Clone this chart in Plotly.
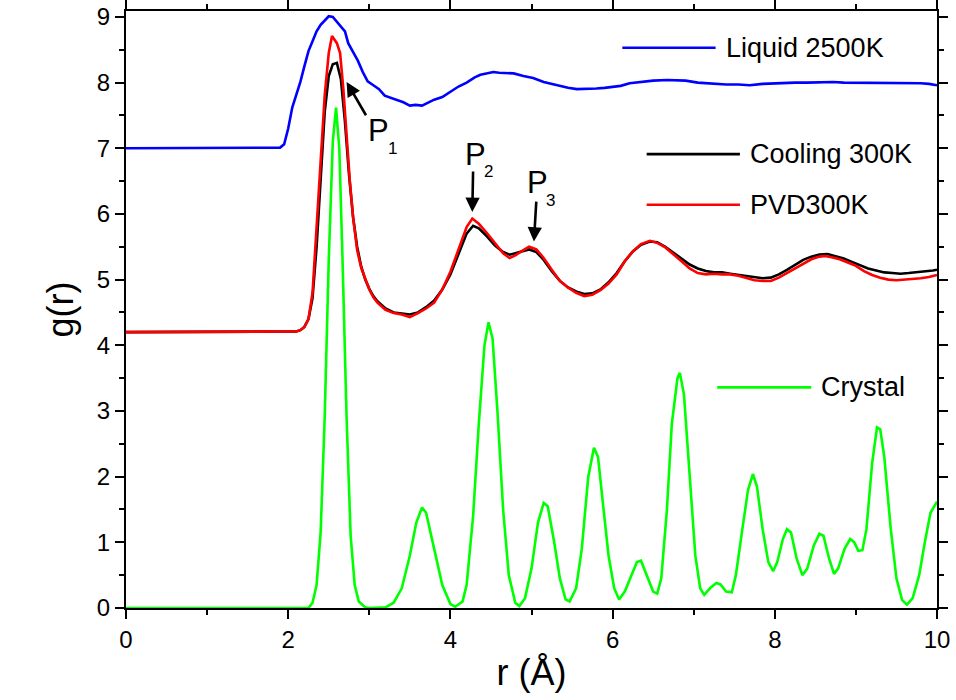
import plotly.graph_objects as go

# ---------------- data ----------------
liquid_r = [0, 1.85, 1.9, 1.95, 2.0, 2.05, 2.1, 2.15, 2.2, 2.25, 2.3, 2.35, 2.4, 2.45, 2.5, 2.55, 2.6, 2.65,
            2.7, 2.74, 2.8, 2.86, 2.92, 2.98, 3.05, 3.12, 3.19, 3.26, 3.34, 3.42, 3.5, 3.57, 3.65, 3.72,
            3.8, 3.9, 4.0, 4.1, 4.2, 4.3, 4.37, 4.45, 4.53, 4.6, 4.7, 4.78, 4.9, 5.02, 5.15, 5.31, 5.45,
            5.56, 5.7, 5.8, 5.9, 5.97, 6.1, 6.21, 6.35, 6.5, 6.67, 6.79, 6.9, 7.05, 7.24, 7.4, 7.55,
            7.69, 7.85, 8.0, 8.1, 8.25, 8.4, 8.55, 8.72, 8.85, 9.0, 9.15, 9.34, 9.5, 9.65, 9.8, 9.9, 10.0]
liquid_g = [7.0, 7.0, 7.01, 7.06, 7.3, 7.62, 7.82, 8.01, 8.25, 8.48, 8.63, 8.78, 8.88, 8.95, 9.01, 9.0, 8.93, 8.86,
            8.78, 8.6, 8.46, 8.33, 8.16, 8.02, 7.96, 7.9, 7.8, 7.77, 7.74, 7.7, 7.65, 7.66, 7.65, 7.69,
            7.74, 7.78, 7.86, 7.94, 8.0, 8.08, 8.12, 8.14, 8.16, 8.15, 8.15, 8.14, 8.1, 8.07, 8.01, 7.96, 7.92,
            7.9, 7.9, 7.91, 7.92, 7.93, 7.95, 7.99, 8.01, 8.03, 8.04, 8.04, 8.03, 8.0, 7.98, 7.97, 7.97,
            7.96, 7.98, 7.99, 7.99, 8.0, 8.0, 8.01, 8.01, 8.0, 8.0, 7.99, 7.99, 8.0, 7.99, 7.99, 7.98, 7.96]

cooling_r = [0, 2.0, 2.1, 2.15, 2.2, 2.25, 2.3, 2.35, 2.4, 2.45, 2.5, 2.55, 2.6, 2.65, 2.7, 2.75, 2.8, 2.85,
             2.9, 2.95, 3.0, 3.05, 3.1, 3.2, 3.3, 3.4, 3.5, 3.6, 3.7, 3.8, 3.9, 4.0, 4.1, 4.2, 4.28, 4.35,
             4.45, 4.55, 4.65, 4.73, 4.8, 4.9, 4.97, 5.06, 5.15, 5.25, 5.35, 5.45, 5.55, 5.65, 5.75, 5.85,
             5.95, 6.05, 6.15, 6.25, 6.35, 6.46, 6.55, 6.65, 6.75, 6.85, 6.95, 7.05, 7.15, 7.25, 7.35, 7.45,
             7.55, 7.65, 7.75, 7.85, 7.95, 8.05, 8.15, 8.25, 8.35, 8.45, 8.55, 8.65, 8.75, 8.85, 8.95, 9.05,
             9.15, 9.25, 9.35, 9.45, 9.55, 9.65, 9.75, 9.85, 9.95, 10.0]
cooling_g = [4.2, 4.2, 4.21, 4.23, 4.28, 4.4, 4.72, 5.5, 6.6, 7.55, 8.1, 8.28, 8.3, 8.05, 7.4, 6.6, 5.95, 5.5,
             5.2, 5.0, 4.86, 4.75, 4.67, 4.56, 4.5, 4.48, 4.47, 4.5, 4.58, 4.68, 4.85, 5.08, 5.4, 5.7, 5.82, 5.78,
             5.66, 5.52, 5.42, 5.38, 5.4, 5.44, 5.46, 5.42, 5.3, 5.13, 4.98, 4.88, 4.82, 4.78, 4.79, 4.85,
             4.96, 5.1, 5.28, 5.43, 5.53, 5.58, 5.57, 5.5, 5.41, 5.32, 5.23, 5.17, 5.13, 5.11, 5.11, 5.09,
             5.07, 5.05, 5.03, 5.02, 5.03, 5.08, 5.15, 5.23, 5.3, 5.35, 5.38, 5.39, 5.36, 5.32, 5.27, 5.22,
             5.17, 5.14, 5.11, 5.1, 5.09, 5.1, 5.11, 5.12, 5.14, 5.15]

pvd_r = [0, 2.0, 2.1, 2.15, 2.2, 2.25, 2.3, 2.35, 2.4, 2.45, 2.5, 2.54, 2.6, 2.64, 2.68, 2.72, 2.76, 2.8,
         2.85, 2.9, 2.95, 3.0, 3.05, 3.1, 3.2, 3.3, 3.4, 3.5, 3.6, 3.7, 3.8, 3.9, 4.0, 4.1, 4.2, 4.27,
         4.35, 4.45, 4.55, 4.65, 4.73, 4.8, 4.9, 4.97, 5.06, 5.15, 5.25, 5.35, 5.45, 5.55, 5.65, 5.75,
         5.85, 5.95, 6.05, 6.15, 6.25, 6.35, 6.46, 6.55, 6.65, 6.75, 6.85, 6.95, 7.05, 7.15, 7.25, 7.35,
         7.45, 7.55, 7.65, 7.75, 7.85, 7.95, 8.05, 8.15, 8.25, 8.35, 8.45, 8.55, 8.62, 8.7, 8.8, 8.9,
         9.0, 9.1, 9.2, 9.3, 9.4, 9.5, 9.6, 9.7, 9.8, 9.9, 10.0]
pvd_g = [4.2, 4.2, 4.21, 4.23, 4.28, 4.4, 4.8, 5.8, 6.8, 7.8, 8.45, 8.71, 8.6, 8.45, 7.9, 7.15, 6.5, 5.95,
         5.45, 5.18, 5.0, 4.85, 4.73, 4.65, 4.54, 4.49, 4.47, 4.43, 4.49, 4.56, 4.65, 4.85, 5.12, 5.47, 5.8, 5.93,
         5.85, 5.71, 5.55, 5.4, 5.33, 5.37, 5.45, 5.5, 5.46, 5.33, 5.15, 4.98, 4.88, 4.8, 4.75, 4.77,
         4.84, 4.94, 5.08, 5.28, 5.43, 5.54, 5.59, 5.56, 5.49, 5.39, 5.28, 5.17, 5.1, 5.08, 5.09, 5.08,
         5.08, 5.06, 5.02, 4.99, 4.98, 4.98, 5.03, 5.1, 5.17, 5.25, 5.31, 5.35, 5.36, 5.34, 5.31, 5.26,
         5.21, 5.13, 5.07, 5.03, 5.0, 4.99, 5.0, 5.0, 5.02, 5.04, 5.07]

crystal_r = [0, 2.25, 2.3, 2.35, 2.4, 2.45, 2.5, 2.55, 2.59, 2.63, 2.67, 2.72, 2.77, 2.82, 2.87, 2.95, 3.0,
             3.1, 3.2, 3.3, 3.4, 3.5, 3.58, 3.65, 3.7, 3.8, 3.9, 4.0, 4.06, 4.15, 4.2, 4.28, 4.35, 4.42,
             4.47, 4.52, 4.58, 4.65, 4.72, 4.8, 4.85, 4.92, 5.0, 5.08, 5.15, 5.2, 5.28, 5.35, 5.42, 5.47,
             5.55, 5.62, 5.7, 5.77, 5.82, 5.88, 5.95, 6.02, 6.08, 6.15, 6.22, 6.3, 6.35, 6.42, 6.5, 6.55,
             6.6, 6.67, 6.73, 6.8, 6.83, 6.88, 6.95, 7.02, 7.08, 7.13, 7.2, 7.28, 7.33, 7.4, 7.47, 7.52,
             7.6, 7.67, 7.73, 7.78, 7.85, 7.92, 7.98, 8.03, 8.1, 8.15, 8.2, 8.27, 8.34, 8.4, 8.48, 8.55,
             8.6, 8.67, 8.73, 8.78, 8.86, 8.93, 8.98, 9.03, 9.08, 9.13, 9.2, 9.26, 9.3, 9.35, 9.43, 9.5,
             9.57, 9.63, 9.7, 9.78, 9.85, 9.92, 10.0]
crystal_g = [0, 0.0, 0.08, 0.35, 1.15, 2.9, 5.3, 7.1, 7.62, 7.0, 5.3, 2.9, 1.1, 0.35, 0.1, 0.01, 0.0,
             0.0, 0.01, 0.08, 0.3, 0.8, 1.3, 1.53, 1.45, 0.9, 0.35, 0.06, 0.02, 0.1, 0.35, 1.4, 2.8, 4.0,
             4.35, 4.1, 3.0, 1.5, 0.5, 0.08, 0.03, 0.15, 0.6, 1.3, 1.6, 1.55, 1.0, 0.45, 0.13, 0.1,
             0.3, 0.9, 2.0, 2.44, 2.3, 1.6, 0.8, 0.3, 0.13, 0.25, 0.45, 0.7, 0.72, 0.5, 0.25, 0.22,
             0.45, 1.5, 2.8, 3.5, 3.58, 3.25, 2.0, 0.8, 0.3, 0.2, 0.3, 0.38, 0.36, 0.25, 0.24, 0.5,
             1.2, 1.8, 2.04, 1.85, 1.2, 0.7, 0.56, 0.7, 1.05, 1.2, 1.15, 0.75, 0.5, 0.6, 0.95, 1.13,
             1.1, 0.75, 0.52, 0.6, 0.9, 1.05, 1.0, 0.87, 0.88, 1.2, 2.2, 2.75, 2.72, 2.3, 1.2, 0.45,
             0.12, 0.05, 0.15, 0.5, 1.0, 1.45, 1.62]

series_names = ["Liquid 2500K", "Cooling 300K", "PVD300K", "Crystal"]
series_colors = ["#0000FF", "#000000", "#FF0000", "#00FF00"]

x_ticks = [0, 2, 4, 6, 8, 10]
y_ticks = [0, 1, 2, 3, 4, 5, 6, 7, 8, 9]

FONT = "Liberation Sans, Arial, sans-serif"

fig = go.Figure()
for r, g, name, col in [(crystal_r, crystal_g, series_names[3], series_colors[3]),
                        (cooling_r, cooling_g, series_names[1], series_colors[1]),
                        (pvd_r, pvd_g, series_names[2], series_colors[2]),
                        (liquid_r, liquid_g, series_names[0], series_colors[0])]:
    fig.add_trace(go.Scatter(x=r, y=g, mode="lines", name=name,
                             line=dict(color=col, width=2.6), showlegend=False))

# legend drawn manually: (x0, x1, y, name index)
legend_items = [(6.12, 7.27, 8.53, 0), (6.42, 7.57, 6.91, 1), (6.42, 7.57, 6.14, 2), (7.29, 8.45, 3.36, 3)]
annotations = []
for x0, x1, yy, i in legend_items:
    fig.add_shape(type="line", x0=x0, x1=x1, y0=yy, y1=yy, xref="x", yref="y",
                  line=dict(color=series_colors[i], width=2.6))
    annotations.append(dict(x=x1 + 0.1, y=yy, xref="x", yref="y", text=series_names[i],
                            showarrow=False, xanchor="left", yanchor="middle",
                            font=dict(family=FONT, size=27, color="black")))

# peak arrows (head x,y ; tail x,y)
arrows = [(2.72, 8.01, 2.97, 7.48), (4.27, 6.03, 4.28, 6.67), (5.03, 5.58, 5.06, 6.21)]
for hx, hy, tx, ty in arrows:
    annotations.append(dict(x=hx, y=hy, ax=tx, ay=ty, xref="x", yref="y", axref="x", ayref="y",
                            text="", showarrow=True, arrowhead=2, arrowsize=1.1, arrowwidth=2.6,
                            arrowcolor="black"))
labels = [(3.11, 7.27, "P", 31), (3.29, 7.0, "1", 17),
          (4.31, 6.91, "P", 31), (4.47, 6.65, "2", 17),
          (5.07, 6.48, "P", 31), (5.24, 6.2, "3", 17)]
for lx, ly, t, s in labels:
    annotations.append(dict(x=lx, y=ly, xref="x", yref="y", text=t, showarrow=False,
                            xanchor="center", yanchor="middle",
                            font=dict(family=FONT, size=s, color="black")))

axis_common = dict(showline=True, linecolor="black", linewidth=2, mirror="allticks",
                   ticks="outside", ticklen=9, tickwidth=2, tickcolor="black",
                   showgrid=False, zeroline=False, automargin=False,
                   tickfont=dict(family=FONT, size=24, color="black"))

fig.update_layout(
    width=956, height=700,
    margin=dict(l=126, r=19, t=11, b=92, autoexpand=False),
    paper_bgcolor="white", plot_bgcolor="white",
    showlegend=False,
    annotations=annotations,
    xaxis=dict(range=[0, 10], tickvals=x_ticks, ticktext=[str(v) for v in x_ticks],
               minor=dict(dtick=1, ticklen=5, tickwidth=2, tickcolor="black", ticks="outside"),
               title=dict(text="r (Å)", font=dict(family=FONT, size=36, color="black"), standoff=8),
               **axis_common),
    yaxis=dict(range=[0, 9.09], tickvals=y_ticks, ticktext=[str(v) for v in y_ticks],
               minor=dict(dtick=0.5, ticklen=5, tickwidth=2, tickcolor="black", ticks="outside"),
               title=dict(text="g(r)", font=dict(family=FONT, size=36, color="black"), standoff=12),
               **axis_common),
)

fig.write_html("out.html")
